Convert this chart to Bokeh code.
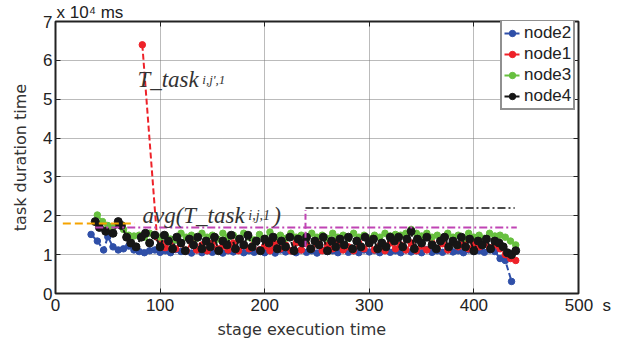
from bokeh.plotting import figure
from bokeh.models import Range1d, LinearAxis, Label, Legend, LegendItem, FixedTicker, Title
from bokeh.embed import file_html
from bokeh.resources import INLINE

# ---------------- data ----------------
x_ticks = [0, 100, 200, 300, 400, 500]
y_ticks = [0, 1, 2, 3, 4, 5, 6, 7]

node2_x = [34, 40, 46, 50, 55, 60, 65, 70, 75, 80,
           85, 90, 95, 100, 105, 110, 115, 120, 125, 130,
           135, 140, 145, 150, 155, 160, 165, 170, 175, 180,
           185, 190, 195, 200, 205, 210, 215, 220, 225, 230,
           235, 240, 245, 250, 255, 260, 265, 270, 275, 280,
           285, 290, 295, 300, 305, 310, 315, 320, 325, 330,
           335, 340, 345, 350, 355, 360, 365, 370, 375, 380,
           385, 390, 395, 400, 405, 410, 415, 420, 425, 430,
           436]
node2_y = [1.52, 1.35, 1.12, 1.46, 1.20, 1.12, 1.15, 1.22, 1.12, 1.08,
           1.05, 1.10, 1.12, 1.06, 1.10, 1.05, 1.13, 1.08, 1.10, 1.04,
           1.12, 1.05, 1.10, 1.06, 1.12, 1.04, 1.10, 1.07, 1.12, 1.05,
           1.10, 1.06, 1.12, 1.05, 1.10, 1.04, 1.12, 1.07, 1.10, 1.05,
           1.12, 1.06, 1.10, 1.04, 1.12, 1.08, 1.10, 1.05, 1.13, 1.06,
           1.10, 1.05, 1.12, 1.07, 1.11, 1.05, 1.12, 1.06, 1.10, 1.05,
           1.12, 1.07, 1.10, 1.05, 1.13, 1.06, 1.10, 1.06, 1.12, 1.07,
           1.10, 1.05, 1.12, 1.08, 1.10, 1.06, 1.12, 1.08, 0.90, 0.85,
           0.31]

node1_x = [83, 97, 101, 105,
           110, 115, 120, 125, 130, 135, 140, 145, 150, 155,
           160, 165, 170, 175, 180, 185, 190, 195, 200, 205,
           210, 215, 220, 225, 230, 235, 240, 245, 250, 255,
           260, 265, 270, 275, 280, 285, 290, 295, 300, 305,
           310, 315, 320, 325, 330, 335, 340, 345, 350, 355,
           360, 365, 370, 375, 380, 385, 390, 395, 400, 405,
           410, 415, 420, 425, 430, 435, 440]
node1_y = [6.40, 1.45, 1.30, 1.18,
           1.35, 1.15, 1.28, 1.10, 1.32, 1.12, 1.25, 1.10, 1.30, 1.15,
           1.22, 1.12, 1.30, 1.10, 1.25, 1.15, 1.32, 1.12, 1.22, 1.10,
           1.30, 1.15, 1.25, 1.10, 1.30, 1.12, 1.28, 1.15, 1.30, 1.10,
           1.25, 1.15, 1.32, 1.12, 1.20, 1.10, 1.30, 1.15, 1.28, 1.12,
           1.22, 1.10, 1.30, 1.15, 1.25, 1.12, 1.30, 1.10, 1.22, 1.12,
           1.30, 1.15, 1.28, 1.12, 1.32, 1.20, 1.30, 1.15, 1.28, 1.20,
           1.30, 1.18, 1.25, 1.15, 1.00, 0.90, 0.85]

node3_x = [40, 45, 50, 55, 60, 65, 70, 75, 80, 85,
           90, 95, 100, 105, 110, 115, 120, 125, 130, 135,
           140, 145, 150, 155, 160, 165, 170, 175, 180, 185,
           190, 195, 200, 205, 210, 215, 220, 225, 230, 235,
           240, 245, 250, 255, 260, 265, 270, 275, 280, 285,
           290, 295, 300, 305, 310, 315, 320, 325, 330, 335,
           340, 345, 350, 355, 360, 365, 370, 375, 380, 385,
           390, 395, 400, 405, 410, 415, 420, 425, 430, 435,
           440]
node3_y = [2.02, 1.85, 1.75, 1.70, 1.82, 1.65, 1.50, 1.48, 1.50, 1.45,
           1.55, 1.50, 1.45, 1.50, 1.40, 1.38, 1.55, 1.45, 1.50, 1.42,
           1.55, 1.45, 1.50, 1.40, 1.55, 1.45, 1.50, 1.42, 1.55, 1.45,
           1.38, 1.52, 1.42, 1.58, 1.45, 1.50, 1.42, 1.55, 1.45, 1.50,
           1.40, 1.55, 1.45, 1.50, 1.42, 1.55, 1.45, 1.50, 1.42, 1.55,
           1.45, 1.50, 1.42, 1.50, 1.45, 1.55, 1.48, 1.52, 1.50, 1.55,
           1.65, 1.55, 1.48, 1.55, 1.45, 1.50, 1.42, 1.55, 1.45, 1.50,
           1.42, 1.55, 1.45, 1.50, 1.42, 1.55, 1.48, 1.50, 1.45, 1.35,
           1.25]

node4_x = [38, 42, 48, 55, 60, 63, 68, 72, 77, 82, 86, 90, 95, 100,
           104, 108, 112, 116, 120, 124, 128, 132, 136, 140,
           144, 148, 152, 156, 160, 164, 168, 172, 176, 180,
           184, 188, 192, 196, 200, 204, 208, 212, 216, 220,
           224, 228, 232, 236, 240, 244, 248, 252, 256, 260,
           264, 268, 272, 276, 280, 284, 288, 292, 296, 300,
           304, 308, 312, 316, 320, 324, 328, 332, 336,
           340, 343, 346, 350, 355, 360,
           364, 368, 372, 376, 380, 384, 388, 392, 396, 400,
           404, 408, 412, 416, 420, 424, 428, 432, 436, 440]
node4_y = [1.85, 1.70, 1.60, 1.55, 1.85, 1.75, 1.45, 1.30, 1.20, 1.45, 1.55, 1.30, 1.50, 1.20,
           1.50, 1.35, 1.15, 1.45, 1.30, 1.10, 1.40, 1.25, 1.45, 1.15,
           1.35, 1.20, 1.45, 1.10, 1.35, 1.25, 1.50, 1.15, 1.40, 1.25,
           1.50, 1.20, 1.35, 1.10, 1.40, 1.30, 1.45, 1.15, 1.35, 1.20,
           1.45, 1.10, 1.40, 1.30, 1.45, 1.15, 1.35, 1.25, 1.45, 1.10,
           1.35, 1.20, 1.40, 1.25, 1.45, 1.15, 1.35, 1.20, 1.45, 1.30,
           1.40, 1.15, 1.30, 1.20, 1.45, 1.35, 1.45, 1.20, 1.40,
           1.60, 1.15, 1.40, 1.30, 1.45, 1.25,
           1.15, 1.35, 1.45, 1.20, 1.35, 1.25, 1.45, 1.20, 1.40, 1.10,
           1.35, 1.25, 1.40, 1.15, 1.35, 1.30, 1.20, 1.05, 1.00, 1.10]

# reference lines
orange_x = [7, 76]
orange_y = [1.8, 1.8]
magenta_x = [38, 441]
magenta_y = [1.7, 1.7]
magenta_vx = [239, 239]
magenta_vy = [1.2, 2.15]
black_ref_x = [239, 439]
black_ref_y = [2.2, 2.2]

# ---------------- figure ----------------
p = figure(width=625, height=343, output_backend="svg", toolbar_location=None,
           x_range=Range1d(0, 500), y_range=Range1d(0, 7),
           min_border_left=55, min_border_right=47, min_border_top=19,
           min_border_bottom=50)
p.title.visible = False
p.background_fill_color = "white"
p.border_fill_color = "white"
p.outline_line_color = "#222222"
p.outline_line_width = 2

TICK_FONT = "Liberation Sans"
TITLE_FONT = "DejaVu Sans"

for ax in (p.xaxis[0], p.yaxis[0]):
    ax.axis_line_color = None
    ax.major_tick_in = 5
    ax.major_tick_out = 0
    ax.major_tick_line_color = "#222222"
    ax.minor_tick_line_color = None
    ax.major_label_text_font = TICK_FONT
    ax.major_label_text_font_size = "17px"
    ax.major_label_text_color = "#222222"

p.xaxis.ticker = FixedTicker(ticks=x_ticks)
p.yaxis.ticker = FixedTicker(ticks=y_ticks)
NB = "\u00a0"
p.xaxis.major_label_overrides = {500: NB * 4 + "500" + NB * 2 + "s"}
p.xaxis.major_label_standoff = 2
p.yaxis.major_label_standoff = 3
p.yaxis.axis_label = "task duration time"
p.yaxis.axis_label_text_font = TITLE_FONT
p.yaxis.axis_label_text_font_size = "16px"
p.yaxis.axis_label_text_font_style = "normal"
p.yaxis.axis_label_text_color = "#333333"
p.yaxis.axis_label_standoff = 10

ra = LinearAxis(ticker=FixedTicker(ticks=y_ticks), major_label_text_font_size="0px",
                major_tick_in=5, major_tick_out=0, axis_line_color=None,
                minor_tick_line_color=None, major_label_standoff=0,
                major_tick_line_color="#222222")
p.add_layout(ra, "right")
ta = LinearAxis(ticker=FixedTicker(ticks=x_ticks), major_label_text_font_size="0px",
                major_tick_in=5, major_tick_out=0, axis_line_color=None,
                minor_tick_line_color=None, major_label_standoff=0,
                major_tick_line_color="#222222")
p.add_layout(ta, "above")

top_title = Title(text="x 10\u2074 ms", align="left", offset=1,
                  text_font=TICK_FONT, text_font_size="17px", text_font_style="normal",
                  text_color="#222222", standoff=0)
p.add_layout(top_title, "above")

xtitle = Title(text="stage execution time", align="left", offset=162,
               text_font=TITLE_FONT, text_font_size="16px", text_font_style="normal",
               text_color="#333333", standoff=0)
p.add_layout(xtitle, "below")

p.xgrid.ticker = FixedTicker(ticks=x_ticks)
p.ygrid.ticker = FixedTicker(ticks=y_ticks)
for g in (p.xgrid[0], p.ygrid[0]):
    g.grid_line_color = "#777777"
    g.grid_line_dash = "1 1"
    g.grid_line_width = 1

# ---------------- series ----------------
series = [
    ("node2", node2_x, node2_y, "#2f4fa8", 6.5),
    ("node1", node1_x, node1_y, "#ee2229", 6.5),
    ("node3", node3_x, node3_y, "#67c03f", 6.5),
    ("node4", node4_x, node4_y, "#161616", 8),
]
items = []
for name, xs, ys, col, sz in series:
    ln = p.line(xs, ys, line_color=col, line_width=2, line_dash="6 3")
    sc = p.scatter(xs, ys, marker="circle", size=sz, fill_color=col, line_color=col)
    items.append(LegendItem(label=name, renderers=[ln, sc]))

# reference lines
p.line(orange_x, orange_y, line_color="#f5a300", line_width=2, line_dash="8 4")
p.line(magenta_x, magenta_y, line_color="#c044b4", line_width=2, line_dash="8 3 2 3")
p.line(magenta_vx, magenta_vy, line_color="#c044b4", line_width=2, line_dash="6 3")
p.line(black_ref_x, black_ref_y, line_color="#111111", line_width=1.5, line_dash="8 3 2 3")

legend = Legend(items=items, location=(445, 183), orientation="vertical")
legend.label_text_font = TICK_FONT
legend.label_text_font_size = "17px"
legend.label_text_color = "#222222"
legend.glyph_width = 16
legend.glyph_height = 20
legend.label_height = 20
legend.spacing = 1
legend.padding = 2
legend.margin = 0
legend.label_standoff = 4
legend.border_line_color = "#222222"
legend.border_line_width = 2
legend.background_fill_alpha = 1
p.add_layout(legend, "center")

# ---------------- text annotations ----------------
SERIF = "Liberation Serif"
p.add_layout(Label(x=78.3, y=5.52, text="T_task", text_font=SERIF, text_font_style="italic",
                   text_font_size="23px", text_color="#333333", text_baseline="alphabetic"))
p.add_layout(Label(x=140.4, y=5.52, text="i,j',1", text_font=SERIF, text_font_style="italic",
                   text_font_size="13px", text_color="#333333", text_baseline="alphabetic"))
p.add_layout(Label(x=83.1, y=1.995, text="avg(T_task", text_font=SERIF, text_font_style="italic",
                   text_font_size="23px", text_color="#333333", text_baseline="alphabetic"))
p.add_layout(Label(x=184.3, y=1.995, text="i,j,1", text_font=SERIF, text_font_style="italic",
                   text_font_size="14px", text_color="#333333", text_baseline="alphabetic"))
p.add_layout(Label(x=208.2, y=1.995, text=")", text_font=SERIF, text_font_style="italic",
                   text_font_size="23px", text_color="#333333", text_baseline="alphabetic"))

open("out.html", "w").write(file_html(p, INLINE))
